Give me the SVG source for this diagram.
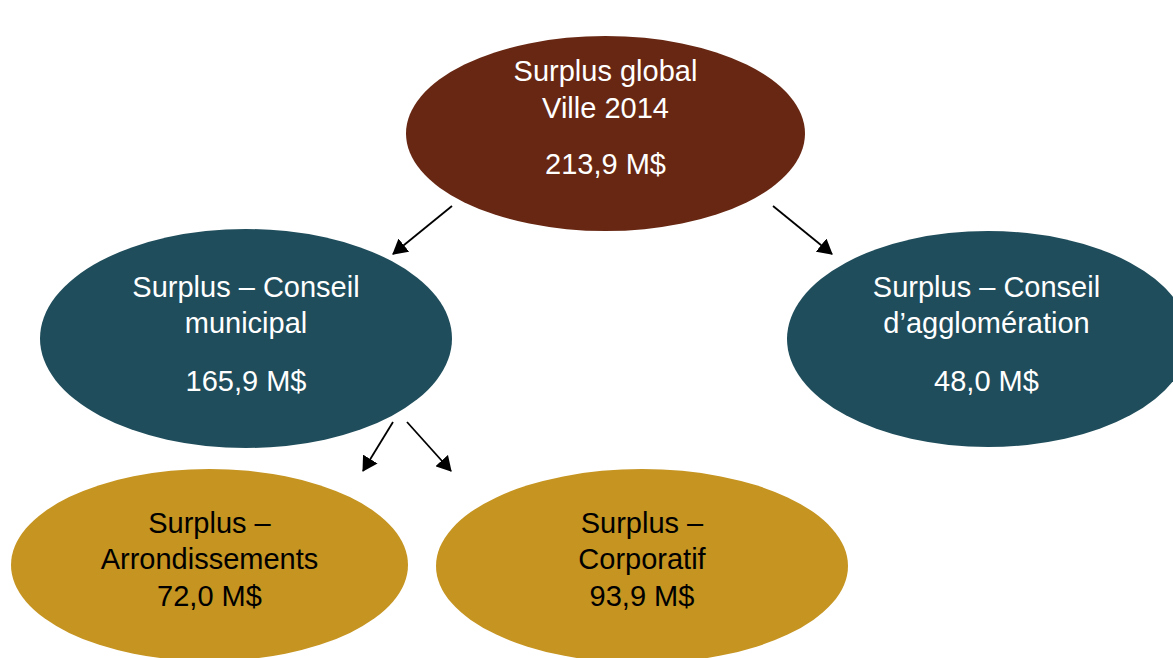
<svg xmlns="http://www.w3.org/2000/svg" width="1173" height="658" viewBox="0 0 1173 658">
  <style>
    text { font-family: "Liberation Sans", Arial, sans-serif; font-size: 29px; text-anchor: middle; }
    .light { fill: #ffffff; }
    .dark { fill: #000000; }
    .brown { fill: #672712; }
    .teal { fill: #1F4D5B; }
    .gold { fill: #C59421; }
    .edge { stroke: #000000; stroke-width: 1.8; fill: none; marker-end: url(#arrow); }
  </style>
  <defs>
    <marker id="arrow" viewBox="0 0 15 17" refX="14" refY="8.5" markerUnits="userSpaceOnUse" markerWidth="15" markerHeight="17" orient="auto">
      <path d="M0,0 L15,8.5 L0,17 Z" fill="#000000"/>
    </marker>
  </defs>
  <rect width="1173" height="658" fill="#ffffff"/>

  <g id="global">
    <ellipse class="brown" cx="605.5" cy="133.5" rx="199.5" ry="97.5"/>
    <text class="light" x="605.5" y="81">Surplus global</text>
    <text class="light" x="605.5" y="118">Ville 2014</text>
    <text class="light" x="605.5" y="174">213,9 M$</text>
  </g>

  <g id="municipal">
    <ellipse class="teal" cx="246" cy="338.5" rx="206" ry="109.5"/>
    <text class="light" x="246" y="297">Surplus – Conseil</text>
    <text class="light" x="246" y="333">municipal</text>
    <text class="light" x="246" y="391">165,9 M$</text>
  </g>

  <g id="agglomeration">
    <ellipse class="teal" cx="988" cy="339" rx="201" ry="108"/>
    <text class="light" x="986.5" y="297">Surplus – Conseil</text>
    <text class="light" x="986.5" y="333">d’agglomération</text>
    <text class="light" x="986.5" y="391">48,0 M$</text>
  </g>

  <g id="arrondissements">
    <ellipse class="gold" cx="209.5" cy="565" rx="198.5" ry="96"/>
    <text class="dark" x="209.5" y="533">Surplus –</text>
    <text class="dark" x="209.5" y="569">Arrondissements</text>
    <text class="dark" x="209.5" y="606">72,0 M$</text>
  </g>

  <g id="corporatif">
    <ellipse class="gold" cx="642" cy="566" rx="206" ry="97"/>
    <text class="dark" x="642" y="533">Surplus –</text>
    <text class="dark" x="642" y="569">Corporatif</text>
    <text class="dark" x="642" y="606">93,9 M$</text>
  </g>

  <g id="connectors">
    <line class="edge" x1="452" y1="206" x2="393" y2="254"/>
    <line class="edge" x1="773" y1="206" x2="832" y2="254"/>
    <line class="edge" x1="393" y1="422" x2="363" y2="471"/>
    <line class="edge" x1="407" y1="422" x2="451" y2="471"/>
  </g>
</svg>
